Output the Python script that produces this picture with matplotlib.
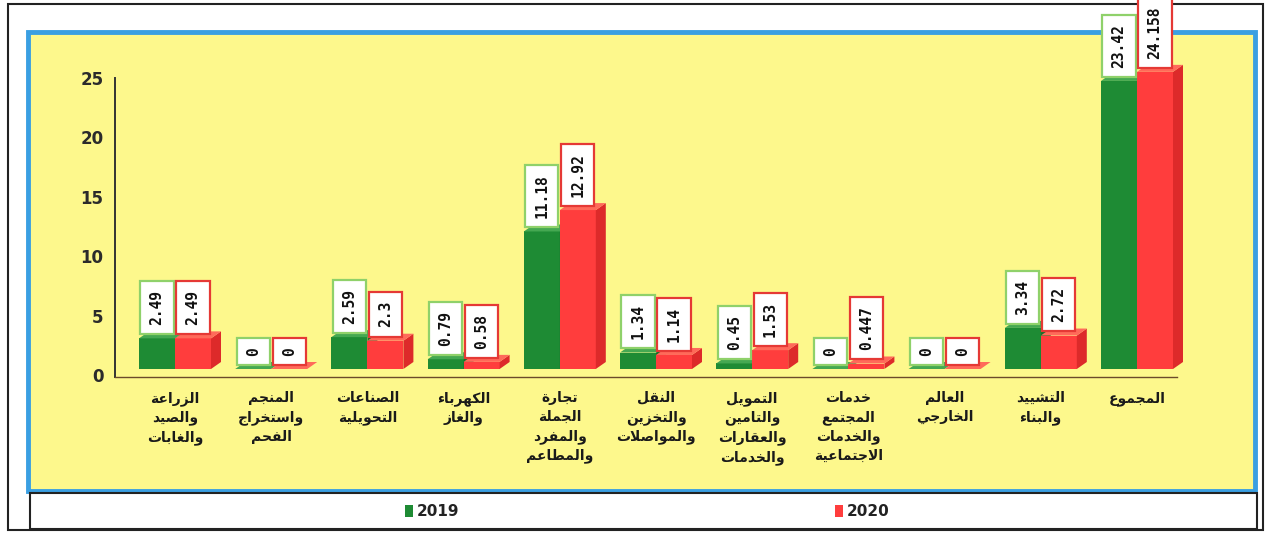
import matplotlib
matplotlib.use("Agg")
import matplotlib.pyplot as plt
from matplotlib.patches import Polygon, Rectangle

# ---------------- data ----------------
categories = [
    "الزراعة\nوالصيد\nوالغابات",
    "المنجم\nواستخراج\nالفحم",
    "الصناعات\nالتحويلية",
    "الكهرباء\nوالغاز",
    "تجارة\nالجملة\nوالمفرد\nوالمطاعم",
    "النقل\nوالتخزين\nوالمواصلات",
    "التمويل\nوالتامين\nوالعقارات\nوالخدمات",
    "خدمات\nالمجتمع\nوالخدمات\nالاجتماعية",
    "العالم\nالخارجي",
    "التشييد\nوالبناء",
    "المجموع",
]
values_2019 = [2.49, 0, 2.59, 0.79, 11.18, 1.34, 0.45, 0, 0, 3.34, 23.42]
values_2020 = [2.49, 0, 2.3, 0.58, 12.92, 1.14, 1.53, 0.447, 0, 2.72, 24.158]
labels_2019 = ["2.49", "0", "2.59", "0.79", "11.18", "1.34", "0.45", "0", "0", "3.34", "23.42"]
labels_2020 = ["2.49", "0", "2.3", "0.58", "12.92", "1.14", "1.53", "0.447", "0", "2.72", "24.158"]
series_names = ["2019", "2020"]
y_ticks = [0, 5, 10, 15, 20, 25]

# ---------------- simple Arabic shaping ----------------
FOUR = {'ئ': 0xFE89, 'ب': 0xFE8F, 'ت': 0xFE95, 'ث': 0xFE99, 'ج': 0xFE9D, 'ح': 0xFEA1,
        'خ': 0xFEA5, 'س': 0xFEB1, 'ش': 0xFEB5, 'ص': 0xFEB9, 'ض': 0xFEBD, 'ط': 0xFEC1,
        'ظ': 0xFEC5, 'ع': 0xFEC9, 'غ': 0xFECD, 'ف': 0xFED1, 'ق': 0xFED5, 'ك': 0xFED9,
        'ل': 0xFEDD, 'م': 0xFEE1, 'ن': 0xFEE5, 'ه': 0xFEE9, 'ي': 0xFEF1}
TWO = {'آ': 0xFE81, 'أ': 0xFE83, 'ؤ': 0xFE85, 'إ': 0xFE87, 'ا': 0xFE8D, 'ة': 0xFE93,
       'د': 0xFEA9, 'ذ': 0xFEAB, 'ر': 0xFEAD, 'ز': 0xFEAF, 'و': 0xFEED, 'ى': 0xFEEF}
ONE = {'ء': 0xFE80}
LAMALEF = {'آ': 0xFEF5, 'أ': 0xFEF7, 'إ': 0xFEF9, 'ا': 0xFEFB}


def _joins_next(t):
    return isinstance(t, str) and t in FOUR


def _joins_prev(t):
    return (not isinstance(t, str)) or t in FOUR or t in TWO


def shape_line(s):
    toks = []
    i = 0
    while i < len(s):
        c = s[i]
        if c == 'ل' and i + 1 < len(s) and s[i + 1] in LAMALEF:
            toks.append(('LA', s[i + 1]))
            i += 2
        else:
            toks.append(c)
            i += 1
    out = []
    n = len(toks)
    for k, t in enumerate(toks):
        pj = k > 0 and _joins_next(toks[k - 1]) and _joins_prev(t)
        nj = k < n - 1 and _joins_next(t) and _joins_prev(toks[k + 1])
        if not isinstance(t, str):
            base = LAMALEF[t[1]]
            out.append(chr(base + (1 if pj else 0)))
        elif t in FOUR:
            b = FOUR[t]
            off = 3 if (pj and nj) else 1 if pj else 2 if nj else 0
            out.append(chr(b + off))
        elif t in TWO:
            out.append(chr(TWO[t] + (1 if pj else 0)))
        elif t in ONE:
            out.append(chr(ONE[t]))
        else:
            out.append(t)
    return "".join(reversed(out))


def shape(text):
    return "\n".join(shape_line(l) for l in text.split("\n"))


# ---------------- figure ----------------
W, H = 1269, 533
fig = plt.figure(figsize=(W / 100, H / 100), dpi=100)
fig.patch.set_facecolor("white")


def fxy(px, py):
    return px / W, 1 - py / H


# outer frame
fig.patches.append(Rectangle(fxy(8, 530), (1263 - 8) / W, (530 - 4) / H,
                             transform=fig.transFigure, fc="white", ec="#222222", lw=1.5, zorder=-3))
# yellow plot area with blue border
fig.patches.append(Rectangle(fxy(28, 491), (1255 - 28) / W, (491 - 32) / H,
                             transform=fig.transFigure, fc="#FDF88C", ec="#3A9FE2", lw=3.5, zorder=-2))
# legend box
fig.patches.append(Rectangle(fxy(30, 529), (1257 - 30) / W, (529 - 493) / H,
                             transform=fig.transFigure, fc="white", ec="#222222", lw=1.5, zorder=-1))

# main axes in pixel layout
L, R, T, B = 115, 1255, 32, 377
ax = fig.add_axes([L / W, 1 - B / H, (R - L) / W, (B - T) / H])
ax.set_zorder(10)
ax.patch.set_alpha(0)
ax.axis("off")

px_x = 96.2      # px per group
px_y = 12.3      # px per value unit
x0_px = 175      # px of first group centre
floor_px = 369   # px of bar floor
ax.set_xlim((L - x0_px) / px_x, (R - x0_px) / px_x)
ymin = (floor_px - B) / px_y
ax.set_ylim(ymin, (floor_px - T) / px_y)

bw = 36 / px_x   # bar width
dx = 10 / px_x   # 3D depth
dy = 7 / px_y

colors = {
    "2019": dict(front="#1E8B34", top="#45A852", side="#16702A", edge="#8FD16A"),
    "2020": dict(front="#FF3D3D", top="#FF6A5A", side="#DD2A2A", edge="#E53935"),
}


def draw_bar(x0, v, c, z):
    ax.add_patch(Rectangle((x0, 0), bw, v, fc=c["front"], ec="none", zorder=z))
    ax.add_patch(Polygon([(x0 + bw, 0), (x0 + bw + dx, dy), (x0 + bw + dx, v + dy), (x0 + bw, v)],
                         closed=True, fc=c["side"], ec="none", zorder=z))
    ax.add_patch(Polygon([(x0, v), (x0 + bw, v), (x0 + bw + dx, v + dy), (x0 + dx, v + dy)],
                         closed=True, fc=c["top"], ec="none", zorder=z))


fs_val = 10.5
pad = 0.62
for i in range(len(categories)):
    for name, vals, x0 in (("2019", values_2019, i - bw), ("2020", values_2020, i)):
        z = 3 + 2 * i + (1 if name == "2020" else 0)
        draw_bar(x0, vals[i], colors[name], z)
    for name, vals, labs, x0 in (("2019", values_2019, labels_2019, i - bw),
                                 ("2020", values_2020, labels_2020, i)):
        c = colors[name]
        ax.annotate(labs[i], xy=(x0 + bw / 2, vals[i] + dy * 0.6),
                    xytext=(0, pad * fs_val), textcoords="offset points",
                    rotation=90, ha="center", va="bottom",
                    fontsize=fs_val, fontweight="bold", family="DejaVu Sans Mono",
                    color="#111111", zorder=50, annotation_clip=False,
                    bbox=dict(boxstyle=f"square,pad={pad}", fc="white", ec=c["edge"], lw=1.6))

# y axis (back wall scale)
y25 = (floor_px - 80) / px_y
for t in y_ticks:
    yt = ymin + t * (y25 - ymin) / 25
    ax.text(-0.01, yt, str(t), transform=ax.get_yaxis_transform(), ha="right", va="center",
            fontsize=12, fontweight="bold", color="#2b2b2b")
ax.plot([ax.get_xlim()[0]] * 2, [ymin, y25 + 0.15], color="#333333", lw=1.4, clip_on=False, zorder=2)
ax.plot([ax.get_xlim()[0], (1177 - x0_px) / px_x], [ymin, ymin], color="#6b4a2a", lw=1.0,
        clip_on=False, zorder=2)

# category labels
for i, cat in enumerate(categories):
    ax.annotate(shape(cat), xy=(i, ymin), xytext=(0, -10), textcoords="offset points",
                ha="center", va="top", multialignment="center", fontsize=10, fontweight="bold",
                family=["DejaVu Sans"], color="#1a1a1a", linespacing=1.45, annotation_clip=False)

# legend
for name, sx in (("2019", 405), ("2020", 835)):
    fig.patches.append(Rectangle(fxy(sx, 517), 8 / W, 12 / H, transform=fig.transFigure,
                                 fc=colors[name]["front"], ec="none", zorder=5))
    fig.text((sx + 12) / W, 1 - 511 / H, name, ha="left", va="center", fontsize=11,
             fontweight="bold", color="#222222", zorder=6)

fig.savefig("out.png", dpi=100)
